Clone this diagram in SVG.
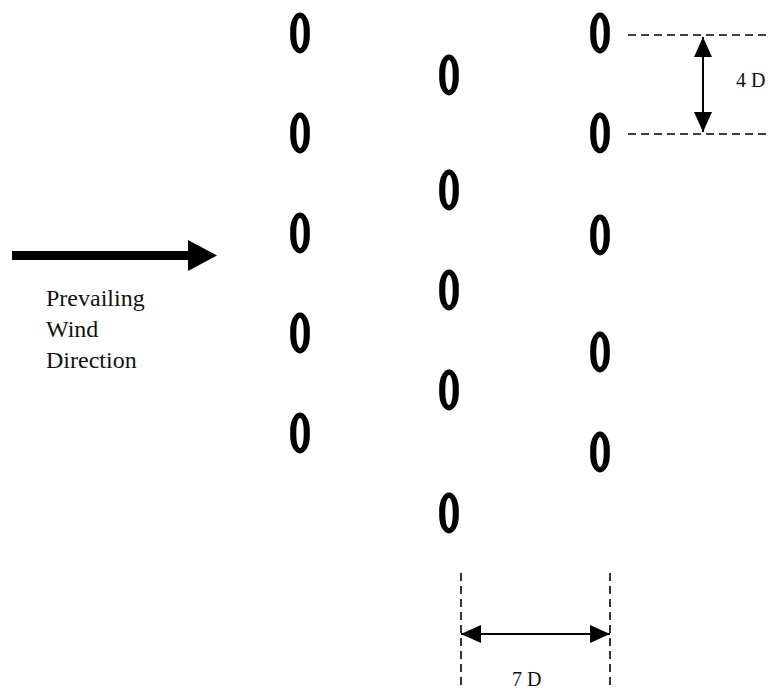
<svg xmlns="http://www.w3.org/2000/svg" width="770" height="690" viewBox="0 0 770 690">
  <defs>
    <marker id="head" viewBox="0 0 20 18" refX="20" refY="9" markerWidth="20" markerHeight="18" markerUnits="userSpaceOnUse" orient="auto-start-reverse">
      <path d="M0,0 L20,9 L0,18 Z" fill="#000"/>
    </marker>
    <!-- turbine ring: oval outline, thicker at the sides -->
    <path id="ring" fill-rule="evenodd" fill="#000" d="M-9.8,-3 A9.8,17.5 0 0,1 9.8,-3 L9.8,3 A9.8,17.5 0 0,1 -9.8,3 Z M-3.7,-2 A3.7,13 0 0,1 3.7,-2 L3.7,2 A3.7,13 0 0,1 -3.7,2 Z"/>
  </defs>
  <style>
    .dash { stroke: #000; stroke-width: 1.6; stroke-dasharray: 8 5; fill: none; }
    .dim { stroke: #000; stroke-width: 2; fill: none; }
    .label { font-family: "Liberation Serif", Tinos, "Times New Roman", Times, serif; fill: #111; }
  </style>
  <rect width="770" height="690" fill="#fff"/>

  <!-- Row 1 turbines -->
  <g id="row1">
    <use id="t1a" href="#ring" x="300" y="33"/>
    <use id="t1b" href="#ring" x="300" y="133"/>
    <use id="t1c" href="#ring" x="300" y="233"/>
    <use id="t1d" href="#ring" x="300" y="333"/>
    <use id="t1e" href="#ring" x="300" y="433"/>
  </g>
  <!-- Row 2 turbines -->
  <g id="row2">
    <use id="t2a" href="#ring" x="449" y="75"/>
    <use id="t2b" href="#ring" x="449" y="190"/>
    <use id="t2c" href="#ring" x="449" y="290"/>
    <use id="t2d" href="#ring" x="449" y="390"/>
    <use id="t2e" href="#ring" x="449" y="513"/>
  </g>
  <!-- Row 3 turbines -->
  <g id="row3">
    <use id="t3a" href="#ring" x="600" y="33"/>
    <use id="t3b" href="#ring" x="600" y="133"/>
    <use id="t3c" href="#ring" x="600" y="235"/>
    <use id="t3d" href="#ring" x="600" y="352"/>
    <use id="t3e" href="#ring" x="600" y="452"/>
  </g>

  <!-- Wind direction arrow -->
  <g id="wind">
    <rect x="12" y="251" width="178" height="9" fill="#000"/>
    <path d="M188,240 L217,255.5 L188,271 Z" fill="#000"/>
    <text class="label" font-size="24" x="46" y="306">Prevailing</text>
    <text class="label" font-size="24" x="46" y="337">Wind</text>
    <text class="label" font-size="24" x="46" y="368">Direction</text>
  </g>

  <!-- Dimension lines -->
  <g id="connectors">
    <line class="dash" x1="628" y1="35" x2="770" y2="35"/>
    <line class="dash" x1="628" y1="134" x2="770" y2="134"/>
    <line class="dim" x1="703" y1="37" x2="703" y2="132" marker-start="url(#head)" marker-end="url(#head)"/>
    <text class="label" font-size="20" x="736" y="87">4 D</text>

    <line class="dash" x1="461" y1="573" x2="461" y2="690"/>
    <line class="dash" x1="610" y1="573" x2="610" y2="690"/>
    <line class="dim" x1="461" y1="634" x2="610" y2="634" marker-start="url(#head)" marker-end="url(#head)"/>
    <text class="label" font-size="20" x="512" y="686">7 D</text>
  </g>
</svg>
